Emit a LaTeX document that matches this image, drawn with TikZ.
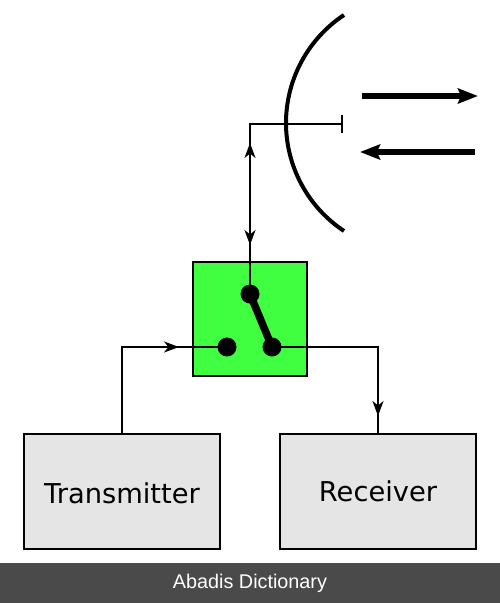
\documentclass[tikz,border=0pt]{standalone}
\usepackage{fontspec}
\setmainfont{DejaVu Sans}
\newfontfamily\barfont{Liberation Sans}
\usetikzlibrary{arrows.meta}
\definecolor{switchgreen}{RGB}{64,255,64}
\definecolor{unitgrey}{RGB}{229,229,229}
\definecolor{footergrey}{RGB}{74,74,74}
\tikzset{
  wire/.style={line width=2pt,black},
  tip/.style={-{Stealth[length=15pt,width=11pt,inset=4.5pt]}},
  unitbox/.style={draw=black,line width=2pt,fill=unitgrey,minimum width=196pt,minimum height=115pt,inner sep=0pt,font=\fontsize{27.3}{32}\selectfont},
  contact/.style={circle,fill=black,minimum size=19pt,inner sep=0pt},
  dishline/.style={line width=4pt,black},
  beam/.style={line width=6.5pt,black,-{Stealth[length=20pt,width=15pt,inset=3pt]}},
}
\begin{document}
\begin{tikzpicture}[x=1pt,y=-1pt]
\useasboundingbox (0,0) rectangle (500,603);
\fill[white] (0,0) rectangle (500,603);
% footer
\node[fill=footergrey,minimum width=500pt,minimum height=40pt,inner sep=0pt,text=white,font=\barfont\fontsize{19.8}{22}\selectfont] (footer) at (250,583) {\raisebox{2pt}{Abadis Dictionary}};
% boxes
\node[draw=black,line width=2pt,fill=switchgreen,minimum size=114pt,inner sep=0pt] (switch) at (250,319) {};
\node[unitbox,text height=30pt,text depth=7.5pt] (tx) at (122,491.75) {Transmitter};
\node[unitbox,text height=27.5pt,text depth=7.5pt] (rx) at (378,491.75) {Receiver};
% contacts
\node[contact] (common) at (250,294) {};
\node[contact] (txpole) at (227,347) {};
\node[contact] (rxpole) at (272,347) {};
% feed
\coordinate (corner) at (250,124);
\coordinate (feedend) at (342,124);
\coordinate (feedtopa) at (342,115);
\coordinate (feedtopb) at (342,133);
\coordinate (uptip) at (250,143);
\coordinate (downtip) at (250,245);
\coordinate (txmid) at (179,347);
\coordinate (txcorner) at (122,347);
\coordinate (rxcorner) at (378,347);
\coordinate (rxtip) at (378,416);
% wires
\draw[wire] (common.center) -- (corner) -- (feedend);
\draw[wire] (feedtopa) -- (feedtopb);
\draw[wire,tip] (common.center) -- (uptip);
\draw[wire,tip] (corner) -- (downtip);
\draw[wire] (tx.north) -- (txcorner) -- (txpole.center);
\draw[wire,tip] (txcorner) -- (txmid);
\draw[wire] (rxpole.center) -- (rxcorner) -- (rx.north);
\draw[wire,tip] (rxcorner) -- (rxtip);
% lever
\draw[line width=7.5pt,black] (common.center) -- (rxpole.center);
% dish
\coordinate (dishtop) at (344,15);
\coordinate (dishmid) at (286,123);
\coordinate (dishbot) at (344,231);
\draw[dishline] (dishtop) .. controls (307.8,39) and (286,79.6) .. (dishmid) .. controls (286,166.4) and (307.8,207) .. (dishbot);
% beams
\coordinate (outa) at (362,96);
\coordinate (outb) at (478,96);
\coordinate (ina) at (475,152);
\coordinate (inb) at (360,152);
\draw[beam] (outa) -- (outb);
\draw[beam] (ina) -- (inb);
\end{tikzpicture}
\end{document}
